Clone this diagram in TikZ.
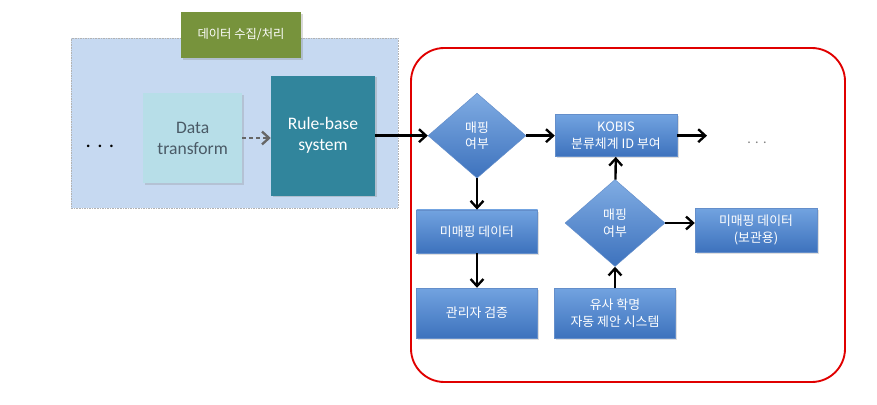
\documentclass[tikz,border=0pt]{standalone}
\usepackage{fontspec}
\setmainfont{Carlito}
\newfontfamily\kr{Noto Sans CJK KR}
\usetikzlibrary{shapes.geometric,arrows.meta,shadows}
\definecolor{bgblue}{HTML}{C6D9F1}
\definecolor{olive}{HTML}{77933C}
\definecolor{paleteal}{HTML}{B7DEE8}
\definecolor{teal}{HTML}{31859C}
\definecolor{boxtop}{HTML}{72A3E0}
\definecolor{boxbot}{HTML}{3D72BD}
\definecolor{redline}{HTML}{E00000}
\definecolor{textgray}{HTML}{4A5A66}
\begin{document}
\begin{tikzpicture}[
  flowbox/.style={rectangle,top color=boxtop,bottom color=boxbot,draw=boxbot!80!white,
    text=white,align=center,font=\kr\fontsize{11}{14}\selectfont,
    minimum width=3.63cm,drop shadow={opacity=0.25,shadow xshift=0.5mm,shadow yshift=-0.5mm}},
  askbox/.style={diamond,top color=boxtop!90!white,bottom color=boxbot,draw=boxbot!80!white,
    text=white,align=center,inner sep=0pt,font=\kr\fontsize{11}{14}\selectfont},
  flow/.style={-{Straight Barb[length=6pt,width=11pt]},line width=2pt},
]
\useasboundingbox (0,0) rectangle (26.31,12.12);

% data collection part
\draw [fill=bgblue,draw=gray!60,densely dotted] (2.13,5.88) rectangle (11.94,10.98);
\node (g) at (7.23,11.07) [rectangle,fill=olive,text=white,minimum width=3.6cm,minimum height=1.38cm,
  font=\kr\fontsize{10.5}{12}\selectfont,drop shadow={opacity=0.3,shadow xshift=0.5mm,shadow yshift=-0.5mm}] {데이터 수집/처리};
\node (d1) at (3.0,7.74) [font=\fontsize{18}{18}\selectfont] {. . .};
\node (t) at (5.78,7.98) [rectangle,fill=paleteal,text=textgray,align=center,minimum width=2.97cm,minimum height=2.7cm,
  font=\fontsize{15}{18}\selectfont,drop shadow={opacity=0.25,shadow xshift=0.5mm,shadow yshift=-0.5mm}] {Data\\transform};
\node (r) at (9.69,8.05) [rectangle,fill=teal,text=white,align=center,minimum width=3.12cm,minimum height=3.6cm,
  font=\fontsize{15}{18}\selectfont,drop shadow={opacity=0.3,shadow xshift=0.5mm,shadow yshift=-0.5mm}] {Rule-base\\system};
\draw [flow,dashed,draw=gray!80!black] (t) -- (t -| r.west);

% mapping part
\draw [redline,line width=1.6pt,rounded corners=1cm] (12.33,0.66) rectangle (25.35,10.68);
\node (m1) at (14.31,8.05) [askbox,minimum width=2.94cm,minimum height=2.55cm] {매핑\\여부};
\node (k) at (18.48,8.05) [flowbox,minimum width=3.66cm,minimum height=1.26cm] {KOBIS\\분류체계 ID 부여};
\coordinate (e) at (21.21,8.05);
\node (d2) at (22.71,7.83) [text=gray,font=\fontsize{12}{12}\selectfont] {. . .};
\node (u) at (14.31,5.18) [flowbox,minimum height=1.29cm] {미매핑 데이터};
\node (a) at (14.31,2.73) [flowbox,minimum height=1.5cm] {관리자 검증};
\node (m2) at (18.45,5.43) [askbox,minimum width=3.0cm,minimum height=2.61cm] {매핑\\여부};
\node (s) at (18.45,2.73) [flowbox,minimum height=1.5cm] {유사 학명\\자동 제안 시스템};
\node (b) at (22.68,5.22) [flowbox,minimum width=3.66cm,minimum height=1.32cm] {미매핑 데이터\\(보관용)};

\draw [flow] (r) -- (m1);
\draw [flow] (m1) -- (k);
\draw [flow] (k) -- (e);
\draw [flow] (m1) -- (u);
\draw [flow] (u) -- (a);
\draw [flow] (s) -- (m2);
\draw [flow] (m2) -- (k);
\draw [flow] (m2.east) -- (m2.east -| b.west);

\end{tikzpicture}
\end{document}
